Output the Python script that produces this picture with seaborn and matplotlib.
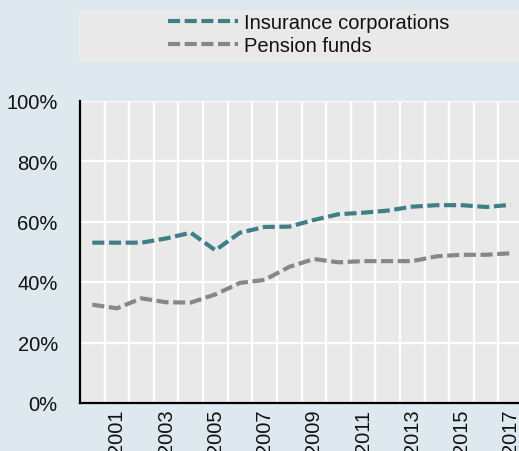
import matplotlib
matplotlib.use("Agg")
import matplotlib.pyplot as plt
import seaborn as sns
import pandas as pd
import numpy as np
from matplotlib.patches import Rectangle
from matplotlib.ticker import FixedLocator

years = [str(y) for y in range(2000, 2018)]
insurance = [53.0, 53.0, 53.0, 54.4, 56.3, 50.5, 56.3, 58.2, 58.3, 60.5,
             62.4, 62.9, 63.6, 64.9, 65.4, 65.4, 64.8, 65.5]
pension = [32.5, 31.3, 34.6, 33.3, 33.2, 35.9, 39.7, 40.7, 45.0, 47.6,
           46.5, 46.9, 46.9, 46.9, 48.5, 49.0, 49.0, 49.5]
series_names = ["Insurance corporations", "Pension funds"]
colors = ["#3f7f88", "#878787"]
y_ticks = [0, 20, 40, 60, 80, 100]

sns.set_theme(style="white")
plt.rcParams['font.family'] = ['Liberation Sans', 'DejaVu Sans']

FS = 14.5

fig = plt.figure(figsize=(5.19, 4.52), dpi=100)
fig.patch.set_facecolor("#dde9ef")

W, H = 519, 452
ax = fig.add_axes([80 / W, 48 / H, 443 / W, 302.5 / H])
ax.set_facecolor("#e9e9e9")

df = pd.DataFrame({
    "idx": list(range(len(years))) * 2,
    "value": insurance + pension,
    "series": [series_names[0]] * len(years) + [series_names[1]] * len(years),
})

sns.lineplot(data=df, x="idx", y="value", hue="series", palette=colors,
             ax=ax, linewidth=3.0, legend=False)
for line in ax.lines:
    line.set_dashes((2.9, 1.1))
    line.set_dash_capstyle("butt")
    line.set_solid_joinstyle("round")

ax.set_xlim(-0.5, len(years) - 0.5)
ax.set_ylim(0, 100)
ax.set_xlabel("")
ax.set_ylabel("")

ax.set_yticks(y_ticks)
ax.set_yticklabels([f"{v}%" for v in y_ticks])
odd = [i for i in range(len(years)) if i % 2 == 1]
ax.set_xticks(odd)
ax.set_xticklabels([years[i] for i in odd], rotation=90)
ax.xaxis.set_minor_locator(FixedLocator([i + 0.5 for i in range(-1, len(years))]))

ax.tick_params(axis="y", which="major", direction="in", length=6 * 72 / 100,
               width=1.5, color="black", labelsize=FS, pad=16, labelcolor="#111111")
ax.tick_params(axis="x", which="both", length=0, labelsize=FS, pad=4,
               labelcolor="#111111")

ax.grid(False)
ax.yaxis.grid(True, which="major", color="white", linewidth=1.6)
ax.xaxis.grid(True, which="minor", color="white", linewidth=1.6)
ax.set_axisbelow(True)

for s in ["top", "right"]:
    ax.spines[s].set_visible(False)
for s in ["left", "bottom"]:
    ax.spines[s].set_color("black")
    ax.spines[s].set_linewidth(1.6)

fig.patches.append(Rectangle((79 / W, (H - 63) / H), 460 / W, 52 / H,
                             transform=fig.transFigure, facecolor="#e9e9e9",
                             edgecolor="none", zorder=0))

handles = []
for name, c in zip(series_names, colors):
    h, = ax.plot([], [], color=c, linewidth=3.0)
    h.set_dashes((2.9, 1.1))
    h.set_dash_capstyle("butt")
    handles.append(h)
leg = fig.legend(handles, series_names, loc="upper left",
                 bbox_to_anchor=(168 / W, (H - 14) / H), frameon=False,
                 fontsize=FS, handlelength=3.5, handletextpad=0.25,
                 labelspacing=0.22, borderpad=0, borderaxespad=0)
for t in leg.get_texts():
    t.set_color("#111111")

fig.savefig("out.png", dpi=100, facecolor=fig.get_facecolor())
